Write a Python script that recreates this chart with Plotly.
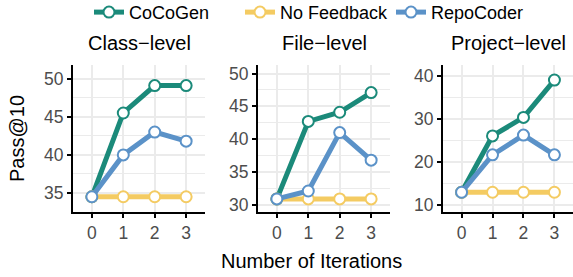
import plotly.graph_objects as go

iterations = [0, 1, 2, 3]
panels = ["Class\u2212level", "File\u2212level", "Project\u2212level"]
series_names = ["CoCoGen", "No Feedback", "RepoCoder"]
colors = {"CoCoGen": "#1B8A7A", "No Feedback": "#F4CB62", "RepoCoder": "#5B92C8"}

class_cocogen = [34.5, 45.5, 49.1, 49.1]
class_nofeedback = [34.5, 34.5, 34.5, 34.5]
class_repocoder = [34.5, 40.0, 43.0, 41.8]

file_cocogen = [30.9, 42.7, 44.1, 47.1]
file_nofeedback = [30.9, 30.9, 30.9, 30.9]
file_repocoder = [30.9, 32.1, 41.0, 36.8]

project_cocogen = [13.0, 26.1, 30.4, 39.1]
project_nofeedback = [13.0, 13.0, 13.0, 13.0]
project_repocoder = [13.0, 21.7, 26.3, 21.7]

data = [
    {"CoCoGen": class_cocogen, "No Feedback": class_nofeedback, "RepoCoder": class_repocoder},
    {"CoCoGen": file_cocogen, "No Feedback": file_nofeedback, "RepoCoder": file_repocoder},
    {"CoCoGen": project_cocogen, "No Feedback": project_nofeedback, "RepoCoder": project_repocoder},
]
y_ranges = [[32.5, 51.8], [28.9, 51.3], [8.4, 42.6]]
y_dticks = [5, 5, 10]

W, H = 573, 277
x_domains = [[73 / W, 205 / W], [258 / W, 390 / W], [443 / W, 573 / W]]
top_px, bot_px = 65, 212
y_domain = [1 - bot_px / H, 1 - top_px / H]

fig = go.Figure()
for i, panel in enumerate(data):
    ax = "" if i == 0 else str(i + 1)
    for name in series_names:
        fig.add_trace(go.Scatter(
            x=iterations, y=panel[name], name=name, mode="lines+markers",
            xaxis="x" + ax, yaxis="y" + ax,
            line=dict(color=colors[name], width=5),
            marker=dict(size=11, color="white", line=dict(color=colors[name], width=2)),
            showlegend=(i == 0), legendgroup=name,
        ))

grid = "#EBEBEB"
FONT = "Liberation Sans, Arial, sans-serif"
tickfont = dict(family=FONT, size=17.5, color="#4D4D4D")
layout = dict(
    width=W, height=H,
    margin=dict(l=0, r=0, t=0, b=0, autoexpand=False),
    paper_bgcolor="white", plot_bgcolor="white",
    font=dict(family=FONT, color="black"),
    legend=dict(orientation="h", x=89 / W, xanchor="left", y=1.022, yanchor="top",
                font=dict(size=18), itemwidth=30, tracegroupgap=0,
                entrywidth=106, entrywidthmode="pixels"),
    annotations=[],
)
for i in range(3):
    ax = "" if i == 0 else str(i + 1)
    layout["xaxis" + ax] = dict(
        domain=x_domains[i], range=[-0.6, 3.6], anchor="y" + ax,
        tickmode="array", tickvals=iterations, ticktext=[str(v) for v in iterations],
        showgrid=True, gridcolor=grid, gridwidth=1.5, zeroline=False,
        showline=True, linecolor="black", linewidth=2,
        ticks="outside", ticklen=4, tickcolor="black", tickwidth=1.5,
        tickfont=tickfont,
    )
    layout["yaxis" + ax] = dict(
        domain=y_domain, range=y_ranges[i], anchor="x" + ax,
        dtick=y_dticks[i], tick0=0,
        showgrid=True, gridcolor=grid, gridwidth=1.5, zeroline=False,
        showline=True, linecolor="black", linewidth=2,
        ticks="outside", ticklen=4, tickcolor="black", tickwidth=1.5,
        tickfont=tickfont,
        minor=dict(dtick=y_dticks[i] / 2, tick0=0, showgrid=True, gridcolor=grid, gridwidth=0.8, ticks=""),
    )
    layout["annotations"].append(dict(
        text=panels[i], xref="paper", yref="paper",
        x=sum(x_domains[i]) / 2, y=1 - 43 / H, xanchor="center", yanchor="middle",
        showarrow=False, font=dict(size=20, color="black"),
    ))

layout["annotations"].append(dict(
    text="Number of Iterations", xref="paper", yref="paper",
    x=311 / W, y=1 - 261 / H, xanchor="center", yanchor="middle",
    showarrow=False, font=dict(size=20, color="black"),
))
layout["annotations"].append(dict(
    text="Pass@10", xref="paper", yref="paper",
    x=17 / W, y=1 - 139 / H, xanchor="center", yanchor="middle", textangle=-90,
    showarrow=False, font=dict(size=20, color="black"),
))

fig.update_layout(**layout)
fig.write_html("out.html", config={"displayModeBar": False},
               post_script="document.body.style.margin='0';document.body.style.overflow='hidden';")
